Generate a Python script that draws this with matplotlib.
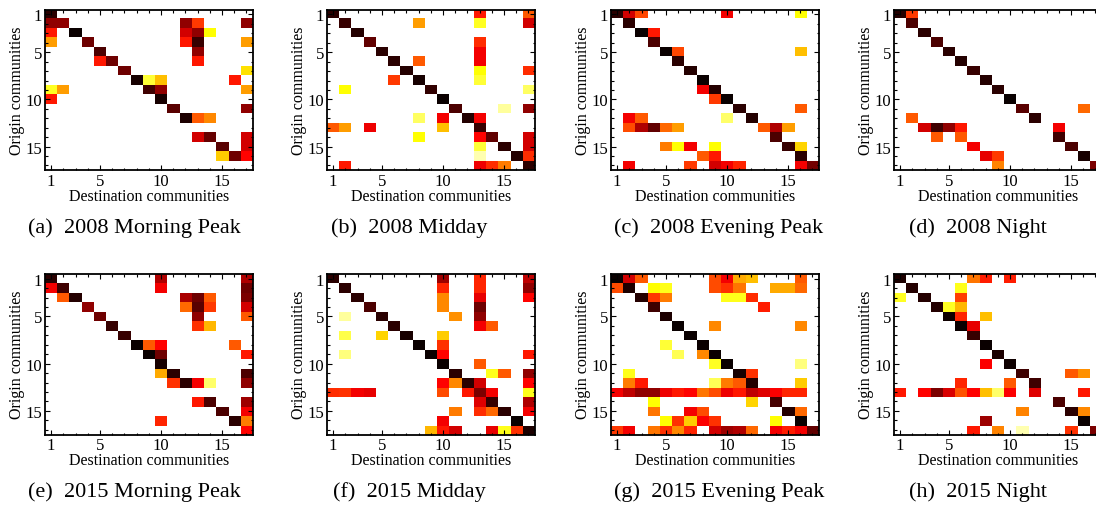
import numpy as np
import matplotlib
matplotlib.use("Agg")
import matplotlib.pyplot as plt
from matplotlib.ticker import FixedLocator

# number of communities
n = 17

# flow levels between communities: (origin, destination, level 0-10)
a_2008_morning = [
    (1, 1, 9.5),
    (2, 1, 8), (2, 2, 8), (2, 12, 8), (2, 13, 5.5), (2, 17, 8),
    (3, 1, 6), (3, 3, 10), (3, 12, 7), (3, 13, 8), (3, 14, 2.5),
    (4, 1, 4), (4, 4, 8.5), (4, 12, 6), (4, 13, 9.3), (4, 17, 4),
    (5, 5, 9), (5, 13, 8),
    (6, 5, 6), (6, 6, 8.5), (6, 13, 6),
    (7, 7, 8.5), (7, 17, 3),
    (8, 8, 9.8), (8, 9, 2), (8, 10, 3.5), (8, 16, 6),
    (9, 1, 2.2), (9, 2, 4), (9, 9, 9.2), (9, 10, 8), (9, 17, 4),
    (10, 1, 6), (10, 10, 9.8),
    (11, 11, 8.8), (11, 17, 8),
    (12, 12, 9.7), (12, 13, 5), (12, 14, 4.3),
    (14, 13, 7), (14, 14, 8.6), (14, 17, 7),
    (15, 15, 8.8), (15, 17, 7),
    (16, 15, 3.3), (16, 16, 8.5), (16, 17, 6.3),
]

b_2008_midday = [
    (1, 1, 9.5), (1, 13, 6), (1, 17, 5),
    (2, 2, 9.3), (2, 8, 4), (2, 13, 2.2), (2, 17, 7),
    (3, 3, 9.6),
    (4, 4, 8.7), (4, 13, 5.7),
    (5, 5, 9.5), (5, 13, 6.5),
    (6, 6, 9.5), (6, 8, 5), (6, 13, 6.5),
    (7, 7, 9.6), (7, 13, 2.5), (7, 17, 5.7),
    (8, 6, 5.5), (8, 8, 9.8), (8, 13, 2),
    (9, 2, 2.5), (9, 9, 9.4), (9, 17, 1.6),
    (10, 10, 10),
    (11, 11, 9), (11, 15, 1), (11, 17, 8),
    (12, 8, 1.6), (12, 10, 6.5), (12, 12, 9.6), (12, 13, 6.5),
    (13, 1, 5), (13, 2, 4), (13, 4, 6.6), (13, 10, 3.5), (13, 13, 9.3),
    (14, 8, 2.5), (14, 13, 6.3), (14, 14, 8.7), (14, 17, 7),
    (15, 13, 2), (15, 15, 9.5), (15, 17, 7),
    (16, 13, 0.8), (16, 16, 9.6), (16, 17, 5.7),
    (17, 2, 6), (17, 13, 6.6), (17, 14, 5.7), (17, 15, 4.5), (17, 17, 9.5),
]

c_2008_evening = [
    (1, 1, 9.5), (1, 2, 7), (1, 3, 5.3), (1, 10, 6.5), (1, 16, 2.5),
    (2, 2, 9.5),
    (3, 3, 10), (3, 4, 6),
    (4, 4, 9),
    (5, 5, 10), (5, 6, 5.3), (5, 16, 3.5),
    (6, 6, 9.5),
    (7, 7, 9.6),
    (8, 8, 10),
    (9, 8, 6.5), (9, 9, 9.6),
    (10, 9, 5.5), (10, 10, 10),
    (11, 11, 9.5), (11, 16, 5),
    (12, 2, 6.5), (12, 3, 5), (12, 10, 1.5), (12, 12, 9.6),
    (13, 2, 5.2), (13, 3, 7.5), (13, 4, 8.7), (13, 5, 4.8), (13, 6, 4),
    (13, 13, 5), (13, 14, 7.5), (13, 15, 4),
    (14, 14, 9),
    (15, 5, 4.5), (15, 6, 2.5), (15, 7, 6.5), (15, 9, 2.5), (15, 15, 9.3), (15, 16, 3.2),
    (16, 8, 5), (16, 9, 6), (16, 16, 9.5),
    (17, 2, 6.5), (17, 7, 5.5), (17, 9, 7), (17, 10, 6.5), (17, 11, 5.8),
    (17, 16, 6.5), (17, 17, 8.4),
]

d_2008_night = [
    (1, 1, 9.6), (1, 2, 5.5),
    (2, 2, 9),
    (3, 3, 9.5),
    (4, 4, 9),
    (5, 5, 9.5),
    (6, 6, 9.6),
    (7, 7, 9.3),
    (8, 8, 9.6),
    (9, 9, 9.5),
    (10, 10, 10),
    (11, 11, 8.8), (11, 16, 4.8),
    (12, 2, 5), (12, 12, 9.5),
    (13, 3, 7), (13, 4, 9.2), (13, 5, 8), (13, 6, 6), (13, 14, 6.5),
    (14, 4, 5), (14, 6, 5), (14, 14, 9.2),
    (15, 7, 6.5), (15, 15, 9),
    (16, 8, 6.7), (16, 9, 5.5), (16, 16, 9.8),
    (17, 9, 4.4), (17, 17, 8.3),
]

e_2015_morning = [
    (1, 1, 9.5), (1, 10, 7.5), (1, 17, 7.5),
    (2, 1, 6.5), (2, 2, 9.2), (2, 10, 6.5), (2, 17, 8.5),
    (3, 2, 5), (3, 3, 9.6), (3, 12, 7.6), (3, 13, 8.5), (3, 14, 5), (3, 17, 8.3),
    (4, 4, 8), (4, 12, 4.8), (4, 13, 8.8), (4, 14, 5.5), (4, 17, 7),
    (5, 5, 8.5), (5, 13, 8), (5, 17, 5),
    (6, 6, 9.3), (6, 13, 5.6), (6, 14, 3.6),
    (7, 7, 9.3),
    (8, 8, 10), (8, 9, 5), (8, 10, 6.3), (8, 16, 5),
    (9, 9, 10), (9, 10, 8.5), (9, 17, 6),
    (10, 10, 9.8),
    (11, 10, 3.8), (11, 11, 9.5), (11, 17, 9),
    (12, 11, 5.6), (12, 12, 9.5), (12, 13, 6.5), (12, 14, 1.5), (12, 17, 8),
    (14, 13, 6), (14, 14, 9), (14, 17, 7.8),
    (15, 15, 9), (15, 17, 6.5),
    (16, 10, 5.8), (16, 16, 9.5), (16, 17, 4.5),
    (17, 17, 6.3),
]

f_2015_midday = [
    (1, 1, 9.5), (1, 10, 7.8), (1, 13, 5.8), (1, 17, 7.3),
    (2, 2, 9.5), (2, 10, 5.8), (2, 13, 5.8), (2, 17, 8),
    (3, 3, 9.5), (3, 10, 4.3), (3, 13, 6.7), (3, 17, 6.3),
    (4, 4, 9), (4, 10, 4.3), (4, 13, 8.5),
    (5, 2, 1), (5, 5, 9.5), (5, 11, 4.2), (5, 13, 8),
    (6, 6, 9.5), (6, 13, 6.5), (6, 14, 5),
    (7, 2, 1.8), (7, 5, 3.2), (7, 7, 9.8), (7, 10, 3.3),
    (8, 8, 10), (8, 10, 5.6),
    (9, 2, 1.3), (9, 9, 10), (9, 10, 6.3), (9, 17, 6),
    (10, 10, 10), (10, 13, 5),
    (11, 11, 9.5), (11, 14, 2.3), (11, 15, 5), (11, 17, 8),
    (12, 10, 6.3), (12, 11, 4.3), (12, 12, 9.5), (12, 13, 7), (12, 17, 6.3),
    (13, 1, 5.7), (13, 2, 5.6), (13, 3, 6.5), (13, 4, 6.7), (13, 10, 5.2),
    (13, 12, 6), (13, 13, 8.3), (13, 14, 6.5), (13, 17, 2.3),
    (14, 13, 6.8), (14, 14, 9.3), (14, 17, 7.5),
    (15, 11, 4.5), (15, 13, 5.7), (15, 14, 4.8), (15, 15, 9.5), (15, 17, 6.5),
    (16, 10, 6.5), (16, 16, 10),
    (17, 9, 3.6), (17, 10, 6), (17, 11, 7), (17, 14, 6.7), (17, 15, 2.3),
    (17, 16, 5.6), (17, 17, 9.7),
]

g_2015_evening = [
    (1, 1, 10), (1, 2, 7), (1, 3, 5), (1, 9, 5.2), (1, 10, 6.5), (1, 11, 3.8),
    (1, 12, 3.5), (1, 16, 5),
    (2, 1, 5.2), (2, 2, 9.7), (2, 4, 2.5), (2, 5, 2.3), (2, 9, 5.2), (2, 10, 5.6),
    (2, 11, 4.6), (2, 14, 3.8), (2, 15, 3.8), (2, 16, 4.8),
    (3, 3, 9.6), (3, 4, 5.5), (3, 5, 4.5), (3, 10, 2.3), (3, 11, 2.3), (3, 12, 5.7),
    (4, 4, 9.2), (4, 13, 5.9),
    (5, 5, 9.7),
    (6, 6, 10), (6, 9, 4.3), (6, 16, 4.3),
    (7, 7, 10),
    (8, 5, 2), (8, 8, 10),
    (9, 6, 1.7), (9, 8, 4.3), (9, 9, 10),
    (10, 9, 2.2), (10, 10, 10), (10, 16, 1.3),
    (11, 2, 2.3), (11, 11, 9.8), (11, 12, 5.6),
    (12, 2, 4.5), (12, 3, 6), (12, 9, 1.7), (12, 10, 4.5), (12, 11, 5),
    (12, 12, 9.6), (12, 16, 3.3),
    (13, 1, 6.5), (13, 2, 7.3), (13, 3, 8), (13, 4, 8), (13, 5, 6.6), (13, 6, 6),
    (13, 7, 6.3), (13, 8, 4.6), (13, 9, 5.2), (13, 10, 6.6), (13, 11, 6),
    (13, 12, 7.3), (13, 13, 6.8), (13, 14, 6.4), (13, 15, 5.8), (13, 16, 5.8),
    (14, 4, 2.5), (14, 12, 3.2), (14, 14, 9.1),
    (15, 4, 4.6), (15, 7, 6.5), (15, 8, 5.2), (15, 15, 9.6), (15, 16, 4.8),
    (16, 5, 2.5), (16, 6, 5.6), (16, 7, 3.3), (16, 8, 6.4), (16, 9, 5.6),
    (16, 14, 2.5), (16, 16, 10),
    (17, 1, 5.5), (17, 2, 6.5), (17, 4, 4.6), (17, 5, 5.6), (17, 6, 4.3),
    (17, 7, 5.8), (17, 9, 7), (17, 10, 7.8), (17, 11, 7.5), (17, 12, 4.8),
    (17, 14, 6.5), (17, 15, 5.9), (17, 16, 6.5), (17, 17, 8.7),
]

h_2015_night = [
    (1, 1, 9.7), (1, 7, 4.6), (1, 8, 5.9), (1, 10, 5.9),
    (2, 2, 9.6), (2, 6, 2.3),
    (3, 1, 2.2), (3, 3, 9.6), (3, 6, 5.4),
    (4, 4, 9.6), (4, 5, 2.2), (4, 6, 3.6),
    (5, 5, 9.9), (5, 6, 5.8), (5, 8, 3.5),
    (6, 6, 10), (6, 7, 6.7),
    (7, 7, 9.3),
    (8, 8, 10),
    (9, 9, 9.7),
    (10, 8, 6.4), (10, 10, 9.9),
    (11, 11, 9.2), (11, 15, 5), (11, 16, 4.2),
    (12, 6, 5.8), (12, 10, 5), (12, 12, 9.2),
    (13, 1, 6), (13, 3, 6.3), (13, 4, 8.3), (13, 5, 6.9), (13, 6, 5.1), (13, 7, 6.3),
    (13, 8, 3.5), (13, 9, 1.5), (13, 10, 6.4), (13, 12, 6.8), (13, 16, 6),
    (14, 14, 9),
    (15, 11, 4.4), (15, 15, 9.5), (15, 16, 4.3),
    (16, 8, 7.8), (16, 16, 10),
    (17, 7, 6), (17, 9, 4.4), (17, 11, 0.8), (17, 15, 5.6), (17, 17, 8.3),
]

panels = [a_2008_morning, b_2008_midday, c_2008_evening, d_2008_night,
          e_2015_morning, f_2015_midday, g_2015_evening, h_2015_night]
captions = ["(a)  2008 Morning Peak", "(b)  2008 Midday", "(c)  2008 Evening Peak",
            "(d)  2008 Night", "(e)  2015 Morning Peak", "(f)  2015 Midday",
            "(g)  2015 Evening Peak", "(h)  2015 Night"]
tick_vals = [1, 5, 10, 15]


def to_matrix(entries):
    m = np.zeros((n, n))
    for o, d, v in entries:
        m[o - 1, d - 1] = v
    return m


plt.rcParams['font.family'] = ['Liberation Serif', 'DejaVu Serif']

W, H = 1096, 506
fig = plt.figure(figsize=(W / 100, H / 100), dpi=100)

# layout in pixels
ax_lefts = [45, 327, 611, 894]
ax_w = 207.5
ax_tops = [10.7, 275]
ax_h = 160.5
cap_x = [134, 409, 719, 978]
cap_y = [228, 492]

for k, entries in enumerate(panels):
    r, c = divmod(k, 4)
    left = ax_lefts[c] / W
    bottom = (H - ax_tops[r] - ax_h) / H
    ax = fig.add_axes([left, bottom, ax_w / W, ax_h / H])
    ax.imshow(to_matrix(entries), cmap='hot_r', vmin=0, vmax=10,
              interpolation='nearest', aspect='auto',
              extent=(0.5, n + 0.5, n + 0.5, 0.5))
    ax.xaxis.set_major_locator(FixedLocator(tick_vals))
    ax.yaxis.set_major_locator(FixedLocator(tick_vals))
    ax.xaxis.set_minor_locator(FixedLocator(range(1, n + 1)))
    ax.yaxis.set_minor_locator(FixedLocator(range(1, n + 1)))
    ax.tick_params(which='both', direction='in', top=True, right=True,
                   labelsize=12, width=0.8)
    ax.tick_params(which='major', length=3.5, pad=2)
    ax.tick_params(which='minor', length=1.8)
    for s in ax.spines.values():
        s.set_linewidth(1.3)
    ax.set_xlabel("Destination communities", fontsize=11.5, labelpad=-1)
    ax.set_ylabel("Origin communities", fontsize=11.5, labelpad=0)
    fig.text(cap_x[c] / W, 1 - cap_y[r] / H, captions[k], fontsize=16,
             ha='center', va='center')

fig.savefig("out.png", dpi=100)
